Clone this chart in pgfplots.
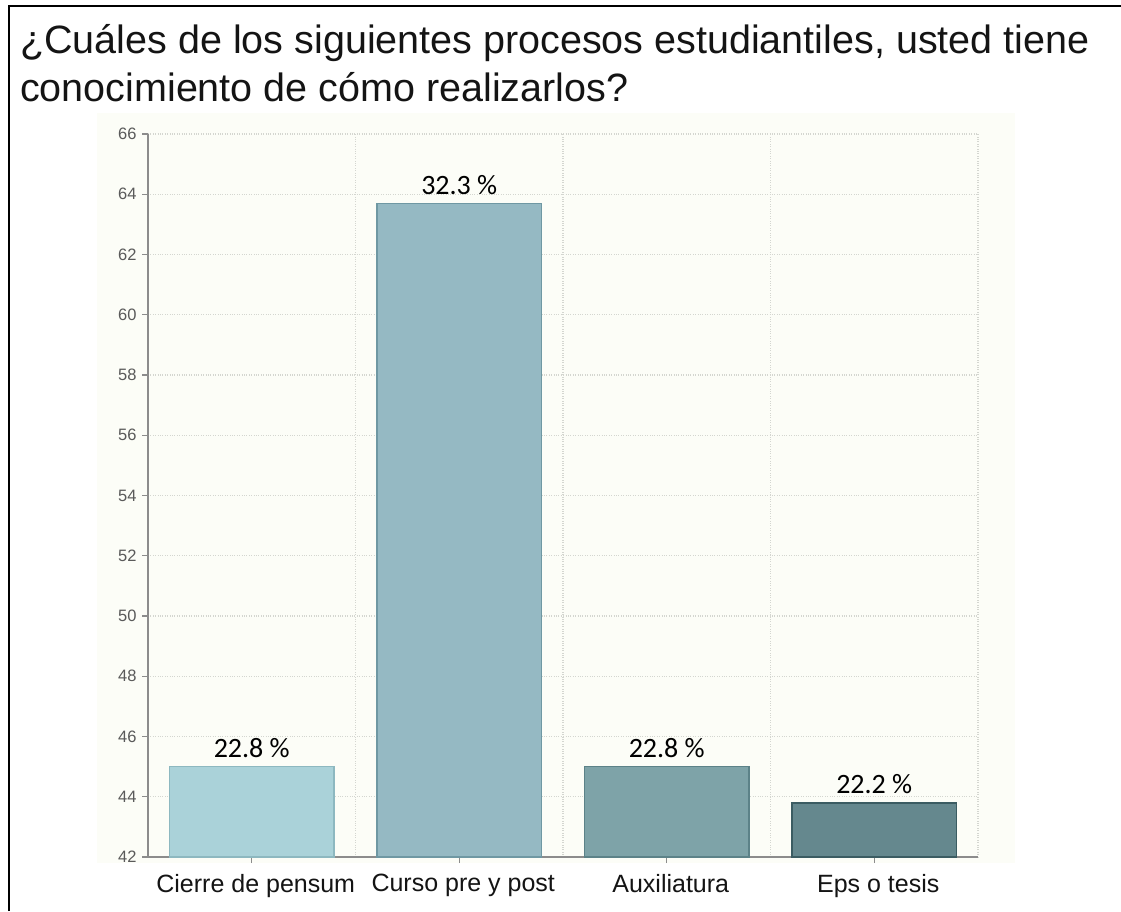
\documentclass[border=0pt]{standalone}
\usepackage{pgfplots}
\pgfplotsset{compat=1.18}
\usepackage{fontspec}
\setmainfont{Liberation Sans}
\newfontfamily\carlito{Carlito}
\definecolor{bgc}{HTML}{FCFDF7}
\definecolor{gridc}{HTML}{D4D6D0}
\definecolor{axisc}{HTML}{8C8C8C}
\definecolor{tickc}{HTML}{5A5A5A}
\definecolor{titlec}{HTML}{141414}
\definecolor{cA}{HTML}{AAD2D9}
\definecolor{cAd}{HTML}{8DB8C0}
\definecolor{cB}{HTML}{95B9C3}
\definecolor{cBd}{HTML}{6F98A3}
\definecolor{cC}{HTML}{7EA3A8}
\definecolor{cCd}{HTML}{5C8288}
\definecolor{cD}{HTML}{65888E}
\definecolor{cDd}{HTML}{3B5C62}
\begin{document}
\begin{tikzpicture}[x=1pt,y=1pt]
\useasboundingbox (0,0) rectangle (1121,911);
\fill[white] (0,0) rectangle (1121,911);
\fill[bgc] (97,48) rectangle (1015,798);
\draw[black, line width=2pt] (9,0) -- (9,905) -- (1121,905);
\node[anchor=base west, font=\fontsize{39.5}{42}\selectfont, text=titlec, inner sep=0pt] at (20,857) {¿Cuáles de los siguientes procesos estudiantiles, usted tiene};
\node[anchor=base west, font=\fontsize{39.5}{42}\selectfont, text=titlec, inner sep=0pt] at (20,809) {conocimiento de cómo realizarlos?};
\begin{axis}[
  at={(148pt,54pt)}, anchor=south west,
  scale only axis, width=830pt, height=723pt,
  xmin=0, xmax=4, ymin=42, ymax=66,
  ytick={42,44,...,66},
  xtick={0.5,1.5,2.5,3.5},
  xticklabels={Cierre de pensum, Curso pre y post, Auxiliatura, Eps o tesis},
  minor xtick={1,2,3,4},
  xminorgrids=true, xmajorgrids=false, ymajorgrids=true,
  major grid style={gridc, dotted, line width=1.2pt},
  minor grid style={gridc, dotted, line width=1.2pt},
  axis x line*=bottom, axis y line*=left,
  axis line style={-, axisc, line width=1.5pt},
  every inner x axis line/.append style={-},
  every inner y axis line/.append style={-},
  every outer x axis line/.append style={-},
  every outer y axis line/.append style={-},
  tick align=outside,
  major tick length=6pt, minor tick length=0pt,
  tick style={axisc, line width=1.2pt},
  /pgf/number format/assume math mode=true,
  yticklabel style={font=\fontsize{16.5}{18}\selectfont, text=tickc, xshift=-2pt},
  xticklabel style={font=\fontsize{25}{28}\selectfont, text=titlec, yshift=-8pt, xshift=4pt},
  ybar, bar width=0.795, bar shift=0pt,
  point meta=explicit symbolic,
  nodes near coords,
  every node near coord/.append style={font=\carlito\fontsize{28}{30}\selectfont, text=black, inner sep=0pt, yshift=8pt},
]
\addplot[fill=cA, draw=cAd, line width=1.5pt, bar shift=0pt] coordinates {(0.5,45.0) [22.8 \%]};
\addplot[fill=cB, draw=cBd, line width=1.5pt, bar shift=0pt] coordinates {(1.5,63.7) [32.3 \%]};
\addplot[fill=cC, draw=cCd, line width=1.5pt, bar shift=0pt] coordinates {(2.5,45.0) [22.8 \%]};
\addplot[fill=cD, draw=cDd, line width=1.5pt, bar shift=0pt] coordinates {(3.5,43.8) [22.2 \%]};
\end{axis}
\end{tikzpicture}
\end{document}
